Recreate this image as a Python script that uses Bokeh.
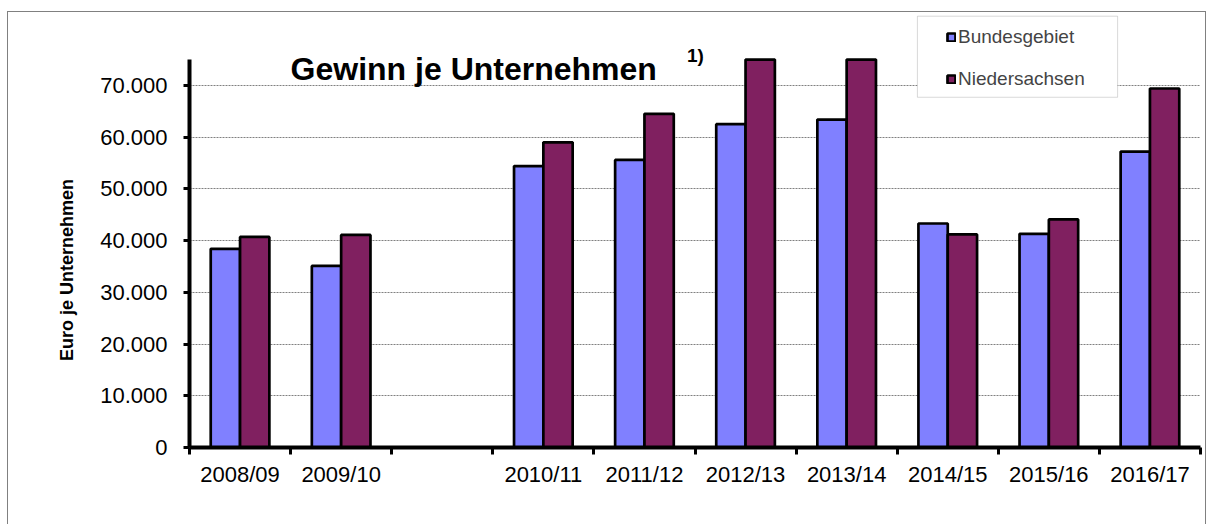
import math
from bokeh.plotting import figure
from bokeh.models import (Range1d, FixedTicker, Label, Legend, LegendItem,
                          BoxAnnotation, ColumnDataSource)
from bokeh.embed import file_html
from bokeh.resources import INLINE

categories = ["2008/09", "2009/10", "", "2010/11", "2011/12", "2012/13",
              "2013/14", "2014/15", "2015/16", "2016/17"]
bundesgebiet = [38400, 35100, None, 54400, 55600, 62500, 63400, 43300, 41300, 57200]
# the two tallest Niedersachsen bars are cut off at the top of the axis (75.000)
niedersachsen = [40700, 41100, None, 59000, 64500, 75000, 75000, 41200, 44100, 69400]
y_ticks = [0, 10000, 20000, 30000, 40000, 50000, 60000, 70000]
y_tick_labels = ["0", "10.000", "20.000", "30.000", "40.000", "50.000", "60.000", "70.000"]

FONT = "Liberation Sans"
BLUE = "#8080FF"
PURPLE = "#802060"

n = len(categories)
idx = list(range(n))
bw = 0.29
src = ColumnDataSource(dict(
    xb=[i + 0.5 - bw / 2 for i in idx],
    xn=[i + 0.5 + bw / 2 for i in idx],
    b=[float("nan") if v is None else v for v in bundesgebiet],
    nn=[float("nan") if v is None else v for v in niedersachsen],
))

Y_MAX = 75000
p = figure(frame_width=1011, frame_height=435, output_backend="svg",
           toolbar_location=None, x_range=Range1d(0, n), y_range=Range1d(0, 84095),
           min_border_left=181, min_border_right=5, min_border_top=0,
           min_border_bottom=77)
p.styles = {"margin-left": "7px", "margin-top": "11px",
            "border-top": "1px solid #808080", "border-left": "1px solid #808080",
            "border-right": "1px solid #808080"}
p.outline_line_color = None
p.background_fill_color = "white"
p.border_fill_color = "white"

rb = p.vbar(x="xb", top="b", width=bw, bottom=0, source=src, fill_color=BLUE,
            line_color="black", line_width=2.7)
rn = p.vbar(x="xn", top="nn", width=bw, bottom=0, source=src, fill_color=PURPLE,
            line_color="black", line_width=2.7)

# x axis
xa = p.xaxis[0]
xa.ticker = FixedTicker(ticks=[i + 0.5 for i in idx], minor_ticks=list(range(n + 1)))
xa.major_label_overrides = {i + 0.5: c for i, c in zip(idx, categories)}
xa.major_tick_line_color = None
xa.major_tick_out = 0
xa.major_tick_in = 0
xa.minor_tick_out = 7
xa.minor_tick_in = 0
xa.minor_tick_line_width = 3
xa.minor_tick_line_color = "black"
xa.axis_line_width = 4
xa.axis_line_color = "black"
xa.major_label_standoff = 7
xa.major_label_text_font = FONT
xa.major_label_text_font_size = "22px"
xa.major_label_text_color = "black"

# y axis
ya = p.yaxis[0]
ya.bounds = (0, Y_MAX)
ya.ticker = FixedTicker(ticks=y_ticks)
ya.major_label_overrides = {t: l for t, l in zip(y_ticks, y_tick_labels)}
ya.major_tick_out = 6
ya.major_tick_in = 0
ya.major_tick_line_width = 3
ya.minor_tick_line_color = None
ya.axis_line_width = 4
ya.axis_line_color = "black"
ya.major_label_standoff = 16
ya.major_label_text_font = FONT
ya.major_label_text_font_size = "22px"
ya.major_label_text_color = "black"
ya.axis_label = "Euro je Unternehmen" + "\u00a0" * 16
ya.axis_label_text_font = FONT
ya.axis_label_text_font_style = "bold"
ya.axis_label_text_font_size = "18px"
ya.axis_label_text_color = "black"
ya.axis_label_standoff = 20

p.xgrid.visible = False
p.ygrid.ticker = FixedTicker(ticks=y_ticks[1:])
p.ygrid.grid_line_color = "#808080"
p.ygrid.grid_line_dash = "2 1"
p.ygrid.grid_line_width = 1

# title
p.add_layout(Label(x=1.0, y=73085, text="Gewinn je Unternehmen", text_font=FONT,
                   text_font_style="bold", text_font_size="32px",
                   text_baseline="alphabetic", text_align="left", text_color="black"))
p.add_layout(Label(x=4.92, y=77900, text="1)", text_font=FONT,
                   text_font_style="bold", text_font_size="19px",
                   text_baseline="top", text_align="left", text_color="black"))

# legend box
p.add_layout(BoxAnnotation(left=7.2, right=9.18, bottom=67705, top=83380,
                           fill_color="white", fill_alpha=1.0,
                           line_color="#808080", line_width=1))
legend = Legend(items=[LegendItem(label="Bundesgebiet", renderers=[rb]),
                       LegendItem(label="Niedersachsen", renderers=[rn])],
                location=(757, 357), padding=10, spacing=20, label_height=20,
                glyph_width=10, glyph_height=10, label_standoff=2,
                label_text_font=FONT, label_text_font_size="19px",
                border_line_color=None, background_fill_alpha=0,
                margin=0)
p.add_layout(legend, "center")

open("out.html", "w").write(file_html(p, INLINE))
